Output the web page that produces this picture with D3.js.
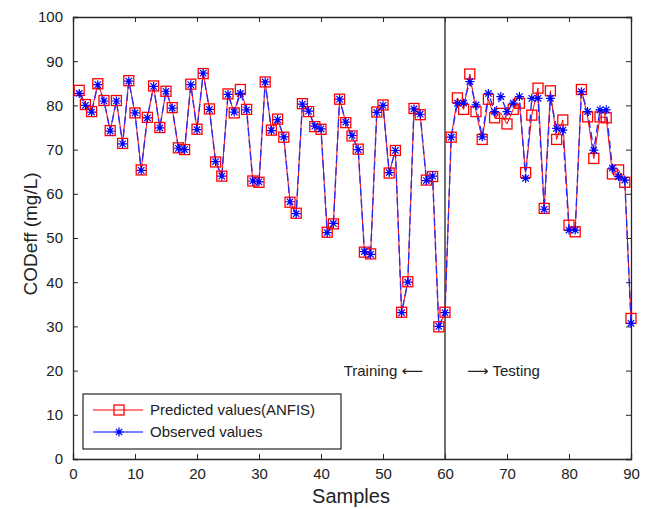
<!DOCTYPE html>
<html>
<head>
<meta charset="utf-8">
<script src="https://cdn.jsdelivr.net/npm/d3@7"></script>
<style>
  body { margin: 0; background: #fff; }
  svg { font-family: "Liberation Sans", Arial, sans-serif; }
</style>
</head>
<body>
<div id="chart"></div>
<script>
// samples 1..90 (1-60 training, 61-90 testing)
const samples = d3.range(1, 91);

const observed = [
    82.7, 80.0, 78.5, 84.7, 81.0, 74.2, 81.0, 71.3, 85.5, 78.3,
    65.3, 77.2, 84.3, 74.9, 83.2, 79.4, 70.3, 70.0, 84.7, 74.5,
    87.3, 79.1, 67.3, 64.0, 82.5, 78.5, 82.7, 79.0, 62.9, 62.7,
    85.3, 74.3, 76.8, 72.9, 58.2, 55.5, 80.3, 78.7, 75.3, 74.7,
    51.2, 53.3, 81.4, 76.2, 73.2, 70.0, 46.9, 46.3, 78.4, 80.0,
    64.8, 69.8, 33.1, 40.0, 79.2, 78.0, 63.0, 64.0, 30.0, 33.1,
    72.8, 80.5, 80.5, 85.4, 80.1, 72.9, 82.7, 78.6, 82.0, 78.6,
    80.5, 82.0, 63.5, 81.6, 81.6, 56.5, 81.6, 74.8, 74.4, 51.8,
    51.8, 83.1, 78.6, 69.9, 79.0, 79.0, 65.8, 63.9, 63.1, 30.7
];

const predicted = [
    83.4, 80.2, 78.6, 84.9, 81.1, 74.3, 81.1, 71.4, 85.6, 78.3,
    65.4, 77.3, 84.4, 75.0, 83.2, 79.5, 70.4, 70.0, 84.8, 74.6,
    87.2, 79.2, 67.2, 64.0, 82.6, 78.3, 83.6, 79.1, 62.9, 62.6,
    85.3, 74.4, 76.9, 72.8, 58.1, 55.6, 80.4, 78.6, 75.2, 74.6,
    51.3, 53.2, 81.4, 76.1, 73.1, 70.1, 46.8, 46.4, 78.5, 80.1,
    64.7, 69.8, 33.2, 40.1, 79.3, 77.9, 63.1, 63.9, 29.9, 33.2,
    72.8, 81.7, 79.1, 87.1, 78.6, 72.3, 81.4, 77.2, 78.2, 75.8,
    79.1, 80.5, 64.8, 77.8, 83.9, 56.7, 83.3, 72.3, 76.7, 52.9,
    51.4, 83.6, 77.4, 68.0, 77.4, 77.2, 64.5, 65.4, 62.6, 31.8
];

const xTicks = d3.range(0, 91, 10);
const yTicks = d3.range(0, 101, 10);
const splitAt = 60;
const legendItems = [
    { label: 'Predicted values(ANFIS)', color: '#ff0000', marker: 'square' },
    { label: 'Observed values', color: '#0000ff', marker: 'star' }
];

const width = 648, height = 509;
const margin = { top: 17, right: 17, bottom: 50, left: 73 };
const innerW = width - margin.left - margin.right;
const innerH = height - margin.top - margin.bottom;

const svg = d3.select('#chart').append('svg')
    .attr('width', width).attr('height', height);

const g = svg.append('g')
    .attr('transform', `translate(${margin.left},${margin.top})`);

const x = d3.scaleLinear().domain([0, 90]).range([0, innerW]);
const y = d3.scaleLinear().domain([0, 100]).range([innerH, 0]);

const axisColor = '#262626';

// axes (ticks pointing inward, box all round)
const axB = g.append('g').attr('transform', `translate(0,${innerH})`)
    .call(d3.axisBottom(x).tickValues(xTicks).tickSize(-5).tickPadding(9));
const axT = g.append('g')
    .call(d3.axisTop(x).tickValues(xTicks).tickSize(-5).tickFormat(''));
const axL = g.append('g')
    .call(d3.axisLeft(y).tickValues(yTicks).tickSize(-5).tickPadding(10));
const axR = g.append('g').attr('transform', `translate(${innerW},0)`)
    .call(d3.axisRight(y).tickValues(yTicks).tickSize(-5).tickFormat(''));

[axB, axT, axL, axR].forEach(a => {
    a.select('.domain').attr('stroke', axisColor).attr('stroke-width', 1.3);
    a.selectAll('.tick line').attr('stroke', axisColor);
    a.selectAll('.tick text').attr('fill', '#222').style('font-size', '15px')
        .style('font-family', '"Liberation Sans", Arial, sans-serif');
});

// training / testing divider
g.append('line')
    .attr('x1', x(splitAt)).attr('x2', x(splitAt))
    .attr('y1', 0).attr('y2', innerH)
    .attr('stroke', '#333').attr('stroke-width', 1.4);

const arrowFont = '"DejaVu Sans", sans-serif';
const tTrain = g.append('text')
    .attr('x', x(splitAt) - 22).attr('y', y(20) + 5)
    .attr('text-anchor', 'end').style('font-size', '15px').attr('fill', '#222');
tTrain.append('tspan').text('Training ');
tTrain.append('tspan').style('font-family', arrowFont).style('font-size', '15px').text('\u27F5');

const tTest = g.append('text')
    .attr('x', x(splitAt) + 22).attr('y', y(20) + 5)
    .attr('text-anchor', 'start').style('font-size', '15px').attr('fill', '#222');
tTest.append('tspan').style('font-family', arrowFont).style('font-size', '15px').text('\u27F6');
tTest.append('tspan').text(' Testing');

// lines
const line = arr => d3.line()
    .x((d, i) => x(samples[i]))
    .y(d => y(d))(arr);

g.append('path')
    .attr('d', line(predicted))
    .attr('fill', 'none').attr('stroke', '#ff0000').attr('stroke-width', 1);

g.append('path')
    .attr('d', line(observed))
    .attr('fill', 'none').attr('stroke', '#2a2aff').attr('stroke-width', 1.4)
    .attr('stroke-dasharray', '8,4');

// markers
const sq = 10;
function drawSquare(sel, cx, cy) {
    sel.append('rect')
        .attr('x', cx - sq / 2).attr('y', cy - sq / 2)
        .attr('width', sq).attr('height', sq)
        .attr('fill', 'none').attr('stroke', '#ff0000').attr('stroke-width', 1.3);
}
function drawStar(sel, cx, cy) {
    const r = 4.5, d = 3.2;
    sel.append('path')
        .attr('d', `M${cx - r},${cy}H${cx + r}M${cx},${cy - r}V${cy + r}` +
            `M${cx - d},${cy - d}L${cx + d},${cy + d}M${cx - d},${cy + d}L${cx + d},${cy - d}`)
        .attr('stroke', '#0000ff').attr('stroke-width', 1.2).attr('fill', 'none');
    sel.append('circle').attr('cx', cx).attr('cy', cy).attr('r', 1.8).attr('fill', '#0000ff');
}

const sqG = g.append('g');
predicted.forEach((v, i) => drawSquare(sqG, x(samples[i]), y(v)));
const stG = g.append('g');
observed.forEach((v, i) => drawStar(stG, x(samples[i]), y(v)));

// axis titles
svg.append('text')
    .attr('x', margin.left + innerW / 2 - 1).attr('y', 503)
    .attr('text-anchor', 'middle').style('font-size', '20px').attr('fill', '#222')
    .text('Samples');
svg.append('text')
    .attr('transform', 'translate(37,234) rotate(-90)')
    .attr('text-anchor', 'middle').style('font-size', '19px').attr('fill', '#222')
    .text('CODeff (mg/L)');

// legend
const lg = svg.append('g').attr('transform', 'translate(83,394)');
lg.append('rect').attr('width', 258).attr('height', 55)
    .attr('fill', '#fff').attr('stroke', axisColor).attr('stroke-width', 1.2);
legendItems.forEach((d, i) => {
    const yy = 16 + i * 22;
    const row = lg.append('g');
    row.append('line').attr('x1', 10).attr('x2', 60).attr('y1', yy).attr('y2', yy)
        .attr('stroke', d.color).attr('stroke-width', 1.2);
    if (d.marker === 'square') drawSquare(row, 36, yy);
    else drawStar(row, 36, yy);
    row.append('text').attr('x', 67).attr('y', yy + 5)
        .style('font-size', '15px').attr('fill', '#222').text(d.label);
});
</script>
</body>
</html>
